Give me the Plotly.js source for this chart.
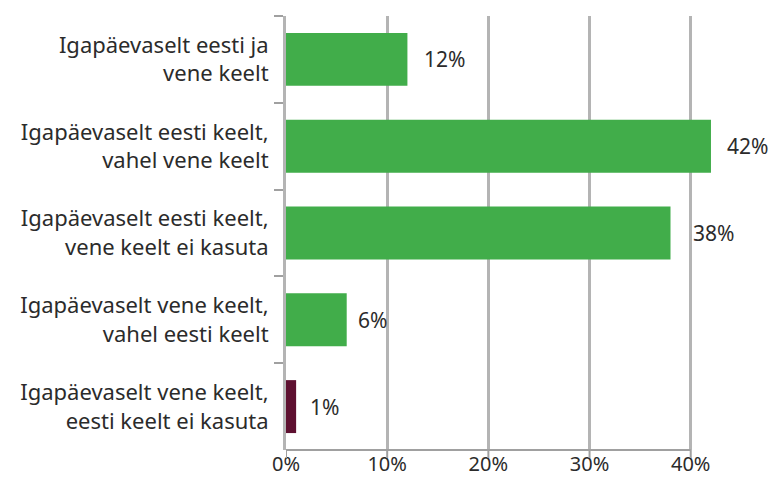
<!DOCTYPE html>
<html>
<head>
<meta charset="utf-8">
<script src="https://cdn.plot.ly/plotly-3.0.1.min.js"></script>
<style>html,body{margin:0;padding:0;background:#fff;}#chart{width:772px;height:482px;}</style>
</head>
<body>
<div id="chart"></div>
<script>
const categories = [
  "Igapäevaselt eesti ja<br>vene keelt",
  "Igapäevaselt eesti keelt,<br>vahel vene keelt",
  "Igapäevaselt eesti keelt,<br>vene keelt ei kasuta",
  "Igapäevaselt vene keelt,<br>vahel eesti keelt",
  "Igapäevaselt vene keelt,<br>eesti keelt ei kasuta"
];
const values = [12, 42, 38, 6, 1];
const valueLabels = ["12%", "42%", "38%", "6%", "1%"];
const barColors = ["#41ad4a", "#41ad4a", "#41ad4a", "#41ad4a", "#5e1030"];
const labelShift = [15, 14, 20, 9, 12];
const xTickVals = [0, 10, 20, 30, 40];
const xTickText = ["0%", "10%", "20%", "30%", "40%"];

const FAM = "Noto Sans, sans-serif";
const TXT = "#2b2b2b";
const AXIS_GRAY = "#a0a0a0";
const PLOT_H = 482 - 16 - 32;

const trace = {
  type: "bar",
  orientation: "h",
  x: values,
  y: categories,
  marker: {color: barColors},
  width: 0.61,
  cliponaxis: false,
  hoverinfo: "none"
};

const annotations = values.map((v, i) => ({
  x: v, y: categories[i], xref: "x", yref: "y",
  text: valueLabels[i], showarrow: false,
  xanchor: "left", yanchor: "middle", xshift: labelShift[i],
  font: {family: FAM, size: 21, color: TXT}
}));

// bottom axis line (0–40) and its outside tick marks
const shapes = [{
  type: "line", xref: "x", yref: "paper",
  x0: xTickVals[0], x1: xTickVals[xTickVals.length - 1], y0: 0, y1: 0,
  line: {color: AXIS_GRAY, width: 2}
}].concat(xTickVals.map(v => ({
  type: "line", xref: "x", yref: "paper",
  x0: v, x1: v, y0: 0, y1: -8 / PLOT_H,
  line: {color: AXIS_GRAY, width: 2}
})));

const layout = {
  width: 772, height: 482,
  margin: {l: 286, r: 59, t: 16, b: 32},
  paper_bgcolor: "#fff", plot_bgcolor: "#fff",
  font: {family: FAM, size: 20, color: TXT},
  showlegend: false,
  xaxis: {
    range: [0, 42.2], fixedrange: true,
    tickvals: xTickVals, ticktext: xTickText,
    showgrid: true, gridcolor: "#b4b4b4", gridwidth: 3,
    zeroline: false, showline: false,
    ticks: "",
    tickfont: {family: FAM, size: 20, color: TXT}
  },
  yaxis: {
    type: "category", autorange: "reversed",
    showgrid: false, zeroline: false,
    showline: true, linecolor: "#b4b4b4", linewidth: 3,
    ticks: "outside", tickson: "boundaries", ticklen: 9, tickcolor: AXIS_GRAY, tickwidth: 2,
    ticklabelstandoff: 10,
    tickfont: {family: FAM, size: 22, color: TXT}
  },
  shapes: shapes,
  annotations: annotations
};

Plotly.newPlot("chart", [trace], layout, {displayModeBar: false, staticPlot: true});
</script>
</body>
</html>
